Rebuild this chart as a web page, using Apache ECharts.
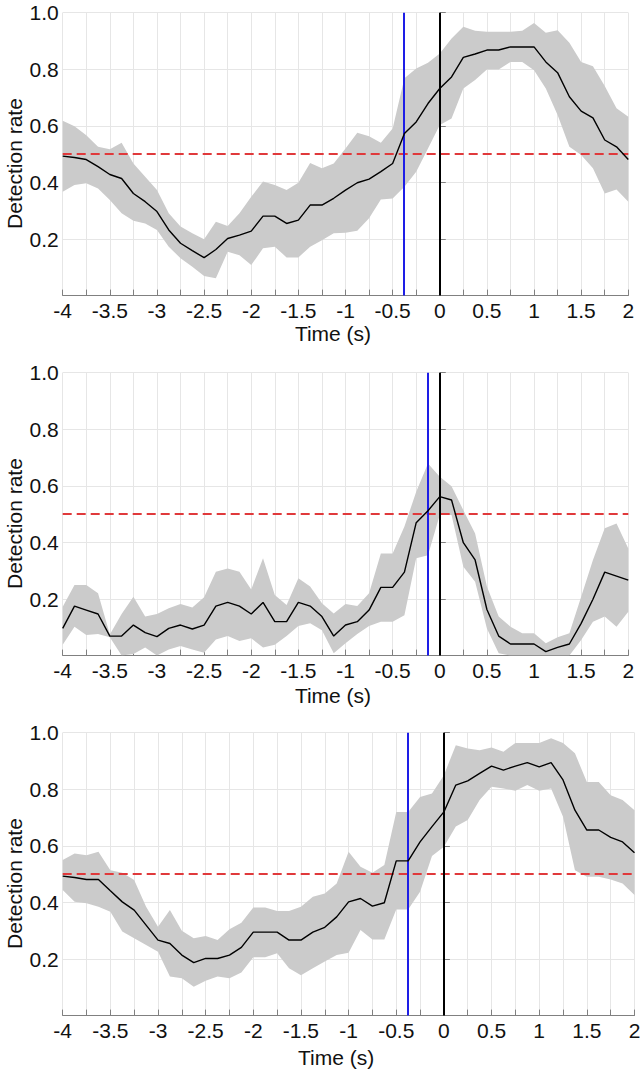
<!DOCTYPE html>
<html>
<head>
<meta charset="utf-8">
<script src="https://cdn.jsdelivr.net/npm/echarts@6/dist/echarts.min.js"></script>
<style>
html,body{margin:0;padding:0;background:#fff;}
#chart{width:640px;height:1072px;}
</style>
</head>
<body>
<div id="chart"></div>
<script>
// Time axis samples (s)
var times = [-4,-3.875,-3.75,-3.625,-3.5,-3.375,-3.25,-3.125,-3,-2.875,-2.75,-2.625,-2.5,-2.375,-2.25,-2.125,-2,-1.875,-1.75,-1.625,-1.5,-1.375,-1.25,-1.125,-1,-0.875,-0.75,-0.625,-0.5,-0.375,-0.25,-0.125,0,0.125,0.25,0.375,0.5,0.625,0.75,0.875,1,1.125,1.25,1.375,1.5,1.625,1.75,1.875,2];

// Panel 1
var p1Mean  = [0.493,0.488,0.481,0.456,0.428,0.414,0.361,0.332,0.297,0.232,0.185,0.159,0.134,0.163,0.202,0.214,0.228,0.281,0.281,0.255,0.267,0.320,0.320,0.344,0.373,0.399,0.412,0.438,0.467,0.573,0.614,0.679,0.732,0.773,0.842,0.854,0.868,0.868,0.879,0.879,0.879,0.826,0.788,0.703,0.652,0.628,0.550,0.526,0.481];
var p1Upper = [0.618,0.599,0.567,0.526,0.517,0.540,0.467,0.420,0.373,0.291,0.244,0.220,0.199,0.261,0.246,0.291,0.349,0.403,0.391,0.373,0.399,0.469,0.450,0.467,0.520,0.576,0.563,0.540,0.591,0.768,0.803,0.823,0.856,0.909,0.950,0.936,0.933,0.933,0.933,0.936,0.964,0.929,0.938,0.894,0.826,0.811,0.741,0.662,0.632];
var p1Lower = [0.367,0.391,0.397,0.379,0.338,0.291,0.265,0.255,0.232,0.173,0.132,0.102,0.069,0.061,0.155,0.143,0.108,0.167,0.173,0.135,0.135,0.173,0.196,0.220,0.222,0.229,0.273,0.340,0.343,0.385,0.438,0.520,0.603,0.626,0.732,0.762,0.799,0.799,0.826,0.826,0.797,0.732,0.638,0.526,0.497,0.450,0.361,0.375,0.332];
var p1Blue = -0.375;

// Panel 2
var p2Mean  = [0.096,0.175,0.161,0.147,0.069,0.069,0.108,0.081,0.067,0.096,0.108,0.094,0.108,0.175,0.188,0.175,0.147,0.188,0.120,0.120,0.188,0.175,0.138,0.069,0.108,0.120,0.161,0.241,0.241,0.295,0.470,0.512,0.562,0.550,0.399,0.338,0.163,0.069,0.041,0.041,0.041,0.014,0.029,0.041,0.114,0.199,0.295,0.281,0.267];
var p2Upper = [0.173,0.250,0.250,0.220,0.075,0.147,0.208,0.138,0.147,0.167,0.182,0.170,0.206,0.296,0.308,0.296,0.234,0.344,0.214,0.179,0.273,0.244,0.185,0.149,0.182,0.175,0.220,0.361,0.361,0.456,0.579,0.679,0.632,0.599,0.514,0.432,0.244,0.138,0.102,0.079,0.079,0.044,0.065,0.079,0.208,0.338,0.450,0.467,0.379];
var p2Lower = [0.038,0.102,0.073,0.076,0.065,0,0.006,0.029,0,0.022,0.034,0.022,0.010,0.057,0.069,0.052,0.061,0.029,0.038,0.069,0.105,0.114,0.090,0.008,0.044,0.076,0.105,0.120,0.120,0.143,0.344,0.355,0.497,0.497,0.314,0.261,0.096,0.008,0,0,0,0,0,0,0.055,0.120,0.138,0.102,0.155];
var p2Blue = -0.125;

// Panel 3
var p3Mean  = [0.493,0.488,0.481,0.481,0.441,0.402,0.373,0.320,0.267,0.255,0.214,0.187,0.202,0.202,0.214,0.241,0.295,0.295,0.295,0.267,0.267,0.295,0.312,0.349,0.402,0.414,0.387,0.399,0.547,0.547,0.614,0.668,0.720,0.815,0.830,0.856,0.882,0.868,0.882,0.894,0.879,0.894,0.833,0.726,0.656,0.656,0.630,0.614,0.576];
var p3Upper = [0.550,0.573,0.567,0.579,0.514,0.505,0.479,0.385,0.314,0.373,0.300,0.273,0.281,0.267,0.305,0.328,0.382,0.382,0.370,0.370,0.385,0.420,0.432,0.467,0.579,0.526,0.505,0.532,0.720,0.720,0.773,0.785,0.850,0.956,0.944,0.938,0.948,0.933,0.964,0.964,0.964,0.980,0.964,0.927,0.826,0.826,0.779,0.762,0.726];
var p3Lower = [0.444,0.402,0.397,0.385,0.367,0.297,0.273,0.250,0.226,0.138,0.132,0.102,0.123,0.138,0.132,0.152,0.206,0.206,0.220,0.167,0.143,0.167,0.191,0.214,0.222,0.303,0.269,0.269,0.375,0.375,0.438,0.564,0.597,0.668,0.691,0.762,0.809,0.803,0.795,0.815,0.795,0.803,0.703,0.514,0.491,0.491,0.481,0.467,0.426];
var p3Blue = -0.375;

var chanceLevel = 0.5;
var onsetTime = 0;

var yTicks = [0, 0.2, 0.4, 0.6, 0.8, 1.0];
var xLabelStep = 0.5;
var yTitle = 'Detection rate';
var xTitle = 'Time (s)';

var panels = [
  {mean: p1Mean, upper: p1Upper, lower: p1Lower, blue: p1Blue},
  {mean: p2Mean, upper: p2Upper, lower: p2Lower, blue: p2Blue},
  {mean: p3Mean, upper: p3Upper, lower: p3Lower, blue: p3Blue}
];

var FONT = '"Liberation Sans", Arial, Helvetica, sans-serif';
var TXT = '#111111';
var AX = '#808080';
var GRIDC = '#e6e6e6';

var grids = [
  {left: 62.7, top: 12.7, width: 565.6, height: 282.9},
  {left: 62.7, top: 372.7, width: 565.6, height: 282.9},
  {left: 62.7, top: 732.7, width: 571.8, height: 282.9}
];
var nameGaps = [27, 29, 31];
var yTitleCenters = [163.5, 523.5, 883.5];

function zip(a, b) { return a.map(function (v, i) { return [v, b[i]]; }); }

function bandRenderer(p) {
  return function (params, api) {
    if (params.dataIndex !== 0) return null;
    var pts = [];
    var i;
    for (i = 0; i < times.length; i++) pts.push(api.coord([times[i], p.upper[i]]));
    for (i = times.length - 1; i >= 0; i--) pts.push(api.coord([times[i], p.lower[i]]));
    return {
      type: 'polygon',
      shape: {points: pts},
      style: {fill: '#cbcbcb', stroke: null}
    };
  };
}

var xAxes = [], yAxes = [], series = [];
panels.forEach(function (p, k) {
  xAxes.push({
    gridIndex: k, type: 'value', min: -4, max: 2, interval: 0.25,
    axisLine: {show: true, onZero: false, lineStyle: {color: AX, width: 1}},
    axisTick: {show: true, inside: true, length: 6, lineStyle: {color: AX}},
    axisLabel: {
      margin: 4, fontSize: 21, color: TXT, fontFamily: FONT, hideOverlap: false,
      formatter: function (v) {
        var r = v / xLabelStep;
        return Math.abs(r - Math.round(r)) < 1e-6 ? String(Math.round(v * 100) / 100) : '';
      }
    },
    splitLine: {show: true, lineStyle: {color: GRIDC, width: 1}},
    name: xTitle, nameLocation: 'middle', nameGap: nameGaps[k],
    nameTextStyle: {fontSize: 21, color: TXT, fontFamily: FONT, padding: [0, 25, 0, 0]}
  });
  yAxes.push({
    gridIndex: k, type: 'value', min: yTicks[0], max: yTicks[yTicks.length - 1], interval: 0.2,
    axisLine: {show: true, lineStyle: {color: AX, width: 1}},
    axisTick: {show: true, inside: true, length: 6, lineStyle: {color: AX}},
    axisLabel: {
      margin: 4, fontSize: 21, color: TXT, fontFamily: FONT,
      formatter: function (v) { return v === 0 ? '' : v.toFixed(1); }
    },
    splitLine: {show: true, lineStyle: {color: GRIDC, width: 1}}
  });
  series.push({
    type: 'custom', xAxisIndex: k, yAxisIndex: k, silent: true, z: 2,
    data: times.map(function (t, i) { return [t, p.lower[i], p.upper[i]]; }),
    encode: {x: 0, y: [1, 2]},
    renderItem: bandRenderer(p),
    clip: true
  });
  series.push({
    type: 'line', xAxisIndex: k, yAxisIndex: k, silent: true, data: [], z: 3,
    markLine: {
      silent: true, symbol: ['none', 'none'], label: {show: false}, animation: false,
      data: [{yAxis: chanceLevel, lineStyle: {color: '#e0393b', width: 2, type: [9, 5]}}]
    }
  });
  series.push({
    type: 'line', xAxisIndex: k, yAxisIndex: k, silent: true,
    data: zip(times, p.mean), symbol: 'none', z: 5,
    lineStyle: {color: '#000000', width: 1.4}
  });
  series.push({
    type: 'line', xAxisIndex: k, yAxisIndex: k, silent: true, data: [], z: 6,
    markLine: {
      silent: true, symbol: ['none', 'none'], label: {show: false}, animation: false,
      data: [
        {xAxis: p.blue, lineStyle: {color: '#1e1ee6', width: 2, type: 'solid'}},
        {xAxis: onsetTime, lineStyle: {color: '#000000', width: 2, type: 'solid'}}
      ]
    }
  });
});

var titles = yTitleCenters.map(function (cy) {
  return {
    type: 'text', x: 14, y: cy, rotation: Math.PI / 2, silent: true,
    style: {
      text: yTitle, fill: TXT, fontSize: 21, fontFamily: FONT,
      align: 'center', verticalAlign: 'middle'
    }
  };
});

var chart = echarts.init(document.getElementById('chart'), null, {renderer: 'svg'});
chart.setOption({
  animation: false,
  backgroundColor: '#ffffff',
  grid: grids.map(function (g) { return Object.assign({containLabel: false, outerBoundsMode: 'none'}, g); }),
  xAxis: xAxes,
  yAxis: yAxes,
  series: series,
  graphic: titles
});
</script>
</body>
</html>
